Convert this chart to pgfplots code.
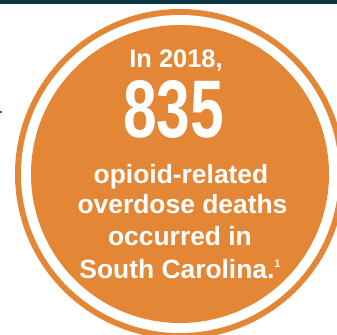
\documentclass[border=0pt]{standalone}
\usepackage{pgfplots}
\pgfplotsset{compat=1.18}
\usepackage{fontspec}
\setmainfont{Liberation Sans}
\definecolor{ringorange}{HTML}{E38635}
\definecolor{darkteal}{HTML}{0A3640}
\begin{document}
\begin{tikzpicture}
\begin{axis}[x=1bp, y=1bp, xmin=0, xmax=337, ymin=0, ymax=335, y dir=reverse,
  hide axis, clip=true]
  \fill[white] (axis cs:0,0) rectangle (axis cs:337,335);
  % top bar
  \fill[darkteal] (axis cs:0,0) rectangle (axis cs:337,4);
  % small mark at left
  \fill[gray!70!black] (axis cs:0,111) rectangle (axis cs:2,113);
  % badge
  \fill[ringorange] (axis cs:180,174) circle [radius=165];
  \fill[white] (axis cs:180,174) circle [radius=159];
  \fill[ringorange] (axis cs:180,174) circle [radius=149];
  % text
  \node[text=white, anchor=base, inner sep=0pt, font=\bfseries\fontsize{25.5}{28}\selectfont]
    at (axis cs:176,67) {In 2018,};
  \node[text=white, anchor=base, inner sep=0pt]
    at (axis cs:173.5,137) {\scalebox{0.74}[1]{\fontsize{82}{85}\selectfont\bfseries 835}};
  \node[text=white, anchor=base, inner sep=0pt, font=\bfseries\fontsize{26.5}{30}\selectfont]
    at (axis cs:181,183) {opioid-related};
  \node[text=white, anchor=base, inner sep=0pt, font=\bfseries\fontsize{26.5}{30}\selectfont]
    at (axis cs:182.5,213) {overdose deaths};
  \node[text=white, anchor=base, inner sep=0pt, font=\bfseries\fontsize{26.5}{30}\selectfont]
    at (axis cs:180,245) {occurred in};
  \node[text=white, anchor=base, inner sep=0pt, font=\bfseries\fontsize{26.5}{30}\selectfont]
    at (axis cs:180,278) {South Carolina.\raisebox{0.38em}{\fontsize{11}{12}\selectfont 1}};
\end{axis}
\end{tikzpicture}
\end{document}
